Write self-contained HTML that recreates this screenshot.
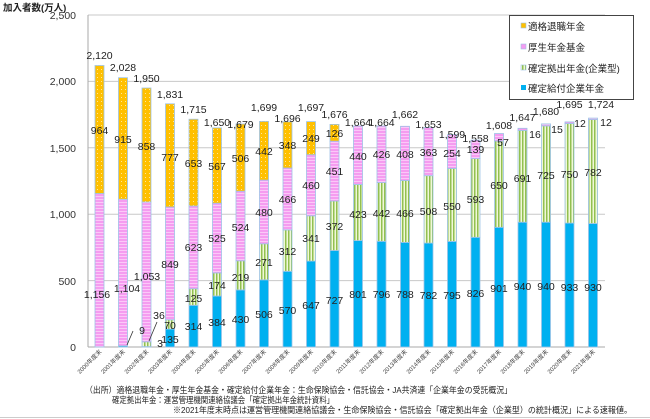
<!DOCTYPE html>
<html><head><meta charset="utf-8"><style>
body{margin:0;background:#fff;}
svg{display:block;font-family:"Liberation Sans","Noto Sans CJK JP",sans-serif;}
.l{font-size:10.5px;fill:#222;text-anchor:middle;}
.y{font-size:10.5px;fill:#333;text-anchor:end;}
.x{font-size:6px;fill:#444;text-anchor:end;}
.f{font-size:8.5px;fill:#222;}
</style></head><body>
<svg width="650" height="419" viewBox="0 0 650 419" xmlns="http://www.w3.org/2000/svg">
<defs>
<pattern id="po" width="4" height="4" patternUnits="userSpaceOnUse"><rect width="4" height="4" fill="#FFC000"/><rect x="1" y="1" width="1" height="1" fill="#FFE699"/></pattern>
<pattern id="pp" width="3" height="3" patternUnits="userSpaceOnUse"><rect width="3" height="3" fill="#F59CF0"/><rect y="1" width="3" height="1" fill="#FBC8F8"/></pattern>
<pattern id="pg" width="3" height="3" patternUnits="userSpaceOnUse"><rect width="3" height="3" fill="#F0F8D8"/><rect x="0" width="1.5" height="3" fill="#92C050"/></pattern>
</defs>
<g stroke="#c8c8c8" stroke-width="1">
<line x1="88" y1="15" x2="605" y2="15"/><line x1="88" y1="81.4" x2="605" y2="81.4"/><line x1="88" y1="147.8" x2="605" y2="147.8"/><line x1="88" y1="214.2" x2="605" y2="214.2"/><line x1="88" y1="280.6" x2="605" y2="280.6"/>
</g>
<line x1="88" y1="15" x2="88" y2="347" stroke="#aaa"/>
<line x1="88" y1="347" x2="605" y2="347" stroke="#aaa"/>
<text x="3" y="11" style="font-size:9.5px;font-weight:bold;fill:#222">加入者数(万人)</text>
<text class="y" x="76" y="19">2,500</text><text class="y" x="76" y="85">2,000</text><text class="y" x="76" y="152">1,500</text><text class="y" x="76" y="218">1,000</text><text class="y" x="76" y="285">500</text><text class="y" x="76" y="351">0</text>
<g stroke="#9DC3E6" stroke-width="0.8">
<!-- 2000 -->
<rect x="95" y="193.5" width="9" height="153.5" fill="url(#pp)"/><rect x="95" y="65.5" width="9" height="128" fill="url(#po)"/>
<!-- 2001 -->
<rect x="118.5" y="345.8" width="9" height="1.2" fill="#00B0F0"/><rect x="118.5" y="199.2" width="9" height="146.6" fill="url(#pp)"/><rect x="118.5" y="77.7" width="9" height="121.5" fill="url(#po)"/>
<!-- 2002 -->
<rect x="142" y="346.6" width="9" height="0.4" fill="#00B0F0"/><rect x="142" y="341.8" width="9" height="4.8" fill="url(#pg)"/><rect x="142" y="202" width="9" height="139.8" fill="url(#pp)"/><rect x="142" y="88" width="9" height="114" fill="url(#po)"/>
<!-- 2003 -->
<rect x="165.5" y="329.1" width="9" height="17.9" fill="#00B0F0"/><rect x="165.5" y="319.8" width="9" height="9.3" fill="url(#pg)"/><rect x="165.5" y="207" width="9" height="112.8" fill="url(#pp)"/><rect x="165.5" y="103.8" width="9" height="103.2" fill="url(#po)"/>
<!-- 2004 -->
<rect x="189" y="305.3" width="9" height="41.7" fill="#00B0F0"/><rect x="189" y="288.7" width="9" height="16.6" fill="url(#pg)"/><rect x="189" y="206" width="9" height="82.7" fill="url(#pp)"/><rect x="189" y="119.2" width="9" height="86.8" fill="url(#po)"/>
<!-- 2005 -->
<rect x="212.5" y="296" width="9" height="51" fill="#00B0F0"/><rect x="212.5" y="272.9" width="9" height="23.1" fill="url(#pg)"/><rect x="212.5" y="203.2" width="9" height="69.7" fill="url(#pp)"/><rect x="212.5" y="127.9" width="9" height="75.3" fill="url(#po)"/>
<!-- 2006 -->
<rect x="236" y="289.9" width="9" height="57.1" fill="#00B0F0"/><rect x="236" y="260.8" width="9" height="29.1" fill="url(#pg)"/><rect x="236" y="191.2" width="9" height="69.6" fill="url(#pp)"/><rect x="236" y="124" width="9" height="67.2" fill="url(#po)"/>
<!-- 2007 -->
<rect x="259.5" y="279.8" width="9" height="67.2" fill="#00B0F0"/><rect x="259.5" y="243.8" width="9" height="36" fill="url(#pg)"/><rect x="259.5" y="180.1" width="9" height="63.7" fill="url(#pp)"/><rect x="259.5" y="121.4" width="9" height="58.7" fill="url(#po)"/>
<!-- 2008 -->
<rect x="283" y="271.3" width="9" height="75.7" fill="#00B0F0"/><rect x="283" y="229.9" width="9" height="41.4" fill="url(#pg)"/><rect x="283" y="168" width="9" height="61.9" fill="url(#pp)"/><rect x="283" y="121.8" width="9" height="46.2" fill="url(#po)"/>
<!-- 2009 -->
<rect x="306.5" y="261.1" width="9" height="85.9" fill="#00B0F0"/><rect x="306.5" y="215.8" width="9" height="45.3" fill="url(#pg)"/><rect x="306.5" y="154.7" width="9" height="61.1" fill="url(#pp)"/><rect x="306.5" y="121.6" width="9" height="33.1" fill="url(#po)"/>
<!-- 2010 -->
<rect x="330" y="250.5" width="9" height="96.5" fill="#00B0F0"/><rect x="330" y="201.1" width="9" height="49.4" fill="url(#pg)"/><rect x="330" y="141.2" width="9" height="59.9" fill="url(#pp)"/><rect x="330" y="124.4" width="9" height="16.8" fill="url(#po)"/>
<!-- 2011-2021 -->
<rect x="353.5" y="240.6" width="9" height="106.4" fill="#00B0F0"/><rect x="353.5" y="184.5" width="9" height="56.1" fill="url(#pg)"/><rect x="353.5" y="126" width="9" height="58.5" fill="url(#pp)"/>
<rect x="377" y="241.3" width="9" height="105.7" fill="#00B0F0"/><rect x="377" y="182.6" width="9" height="58.7" fill="url(#pg)"/><rect x="377" y="126" width="9" height="56.6" fill="url(#pp)"/>
<rect x="400.5" y="242.4" width="9" height="104.6" fill="#00B0F0"/><rect x="400.5" y="180.5" width="9" height="61.9" fill="url(#pg)"/><rect x="400.5" y="126.3" width="9" height="54.2" fill="url(#pp)"/>
<rect x="424" y="243.1" width="9" height="103.9" fill="#00B0F0"/><rect x="424" y="175.7" width="9" height="67.4" fill="url(#pg)"/><rect x="424" y="127.5" width="9" height="48.2" fill="url(#pp)"/>
<rect x="447.5" y="241.4" width="9" height="105.6" fill="#00B0F0"/><rect x="447.5" y="168.4" width="9" height="73" fill="url(#pg)"/><rect x="447.5" y="134.7" width="9" height="33.7" fill="url(#pp)"/>
<rect x="471" y="237.3" width="9" height="109.7" fill="#00B0F0"/><rect x="471" y="158.6" width="9" height="78.7" fill="url(#pg)"/><rect x="471" y="140.1" width="9" height="18.5" fill="url(#pp)"/>
<rect x="494.5" y="227.3" width="9" height="119.7" fill="#00B0F0"/><rect x="494.5" y="141" width="9" height="86.3" fill="url(#pg)"/><rect x="494.5" y="133.5" width="9" height="7.5" fill="url(#pp)"/>
<rect x="518" y="222.2" width="9" height="124.8" fill="#00B0F0"/><rect x="518" y="130.4" width="9" height="91.8" fill="url(#pg)"/><rect x="518" y="128.3" width="9" height="2.1" fill="url(#pp)"/>
<rect x="541.5" y="222.2" width="9" height="124.8" fill="#00B0F0"/><rect x="541.5" y="125.9" width="9" height="96.3" fill="url(#pg)"/><rect x="541.5" y="123.9" width="9" height="2" fill="url(#pp)"/>
<rect x="565" y="223.1" width="9" height="123.9" fill="#00B0F0"/><rect x="565" y="123.5" width="9" height="99.6" fill="url(#pg)"/><rect x="565" y="121.9" width="9" height="1.6" fill="url(#pp)"/>
<rect x="588.5" y="223.5" width="9" height="123.5" fill="#00B0F0"/><rect x="588.5" y="119.6" width="9" height="103.9" fill="url(#pg)"/><rect x="588.5" y="118.1" width="9" height="1.5" fill="url(#pp)"/>
</g>
<!-- leader lines -->
<g stroke="#333" stroke-width="0.8"><line x1="133" y1="331" x2="127" y2="345"/><line x1="157" y1="322" x2="149" y2="341"/></g>
<!-- labels -->
<g class="l">
<text x="99.5" y="59">2,120</text><text x="99.5" y="134">964</text><text x="97" y="298">1,156</text>
<text x="123" y="71">2,028</text><text x="123" y="143">915</text><text x="127" y="292">1,104</text><text x="142" y="334">9</text>
<text x="146.5" y="82">1,950</text><text x="146.5" y="150">858</text><text x="147" y="280">1,053</text><text x="159" y="319">36</text><text x="160" y="347">3</text>
<text x="170" y="98">1,831</text><text x="170" y="161">777</text><text x="170" y="268">849</text><text x="170" y="329">70</text><text x="170" y="343">135</text>
<text x="193.5" y="113">1,715</text><text x="193.5" y="167">653</text><text x="193.5" y="251">623</text><text x="193.5" y="302">125</text><text x="193.5" y="330">314</text>
<text x="217" y="126">1,650</text><text x="217" y="170">567</text><text x="217" y="242">525</text><text x="217" y="289">174</text><text x="217" y="326">384</text>
<text x="240.5" y="128">1,679</text><text x="240.5" y="162">506</text><text x="240.5" y="231">524</text><text x="240.5" y="281">219</text><text x="240.5" y="323">430</text>
<text x="264" y="111">1,699</text><text x="264" y="155">442</text><text x="264" y="216">480</text><text x="264" y="266">271</text><text x="264" y="318">506</text>
<text x="287.5" y="122">1,696</text><text x="287.5" y="149">348</text><text x="287.5" y="203">466</text><text x="287.5" y="255">312</text><text x="287.5" y="314">570</text>
<text x="311" y="111">1,697</text><text x="311" y="142">249</text><text x="311" y="189">460</text><text x="311" y="242">341</text><text x="311" y="309">647</text>
<text x="334.5" y="118">1,676</text><text x="334.5" y="137">126</text><text x="334.5" y="175">451</text><text x="334.5" y="230">372</text><text x="334.5" y="304">727</text>
<text x="358" y="126">1,664</text><text x="358" y="160">440</text><text x="358" y="218">423</text><text x="358" y="298">801</text>
<text x="381.5" y="126">1,664</text><text x="381.5" y="158">426</text><text x="381.5" y="217">442</text><text x="381.5" y="298">796</text>
<text x="405" y="118">1,662</text><text x="405" y="158">408</text><text x="405" y="217">466</text><text x="405" y="298">788</text>
<text x="428.5" y="128">1,653</text><text x="428.5" y="156">363</text><text x="428.5" y="215">508</text><text x="428.5" y="299">782</text>
<text x="452" y="138">1,599</text><text x="452" y="157">254</text><text x="452" y="210">550</text><text x="452" y="299">795</text>
<text x="475.5" y="142">1,558</text><text x="475.5" y="153">139</text><text x="475.5" y="203">593</text><text x="475.5" y="297">826</text>
<text x="499" y="129">1,608</text><text x="503" y="146">57</text><text x="499" y="189">650</text><text x="499" y="292">901</text>
<text x="522.5" y="121">1,647</text><text x="535" y="138">16</text><text x="522.5" y="182">691</text><text x="522.5" y="290">940</text>
<text x="546" y="115">1,680</text><text x="557" y="133">15</text><text x="546" y="179">725</text><text x="546" y="290">940</text>
<text x="569.5" y="108">1,695</text><text x="580" y="127">12</text><text x="569.5" y="178">750</text><text x="569.5" y="291">933</text>
<text x="601" y="108">1,724</text><text x="606" y="126">12</text><text x="593" y="176">782</text><text x="593" y="291">930</text>
</g>
<!-- x labels -->
<g class="x">
<text transform="translate(102,352) rotate(-45)">2000年度末</text>
<text transform="translate(125.5,352) rotate(-45)">2001年度末</text>
<text transform="translate(149,352) rotate(-45)">2002年度末</text>
<text transform="translate(172.5,352) rotate(-45)">2003年度末</text>
<text transform="translate(196,352) rotate(-45)">2004年度末</text>
<text transform="translate(219.5,352) rotate(-45)">2005年度末</text>
<text transform="translate(243,352) rotate(-45)">2006年度末</text>
<text transform="translate(266.5,352) rotate(-45)">2007年度末</text>
<text transform="translate(290,352) rotate(-45)">2008年度末</text>
<text transform="translate(313.5,352) rotate(-45)">2009年度末</text>
<text transform="translate(337,352) rotate(-45)">2010年度末</text>
<text transform="translate(360.5,352) rotate(-45)">2011年度末</text>
<text transform="translate(384,352) rotate(-45)">2012年度末</text>
<text transform="translate(407.5,352) rotate(-45)">2013年度末</text>
<text transform="translate(431,352) rotate(-45)">2014年度末</text>
<text transform="translate(454.5,352) rotate(-45)">2015年度末</text>
<text transform="translate(478,352) rotate(-45)">2016年度末</text>
<text transform="translate(501.5,352) rotate(-45)">2017年度末</text>
<text transform="translate(525,352) rotate(-45)">2018年度末</text>
<text transform="translate(548.5,352) rotate(-45)">2019年度末</text>
<text transform="translate(572,352) rotate(-45)">2020年度末</text>
<text transform="translate(595.5,352) rotate(-45)">2021年度末</text>
</g>
<!-- legend -->
<rect x="509.5" y="15.5" width="124" height="84" fill="#fff" stroke="#444"/>
<rect x="521" y="23" width="5" height="5" fill="#FFC000" stroke="#9DC3E6" stroke-width="0.6"/>
<rect x="521" y="44" width="5" height="5" fill="#F59CF0" stroke="#9DC3E6" stroke-width="0.6"/>
<rect x="521" y="65" width="5" height="5" fill="url(#pg)" stroke="#9DC3E6" stroke-width="0.6"/>
<rect x="521" y="85" width="5" height="5" fill="#00B0F0"/>
<g style="font-size:9.5px;fill:#222">
<text x="528" y="30">適格退職年金</text><text x="528" y="51">厚生年金基金</text><text x="528" y="72">確定拠出年金(企業型)</text><text x="528" y="92">確定給付企業年金</text>
</g>
<!-- footer -->
<text class="f" x="85" y="393" textLength="427" lengthAdjust="spacingAndGlyphs">（出所）適格退職年金・厚生年金基金・確定給付企業年金：生命保険協会・信託協会・JA共済連「企業年金の受託概況」</text>
<text class="f" x="112" y="403" textLength="222" lengthAdjust="spacingAndGlyphs">確定拠出年金：運営管理機関連絡協議会「確定拠出年金統計資料」</text>
<text class="f" x="173" y="413" textLength="459" lengthAdjust="spacingAndGlyphs">※2021年度末時点は運営管理機関連絡協議会・生命保険協会・信託協会「確定拠出年金（企業型）の統計概況」による速報値。</text>
<line x1="0" y1="417.5" x2="650" y2="417.5" stroke="#ccc"/>
</svg>
</body></html>
